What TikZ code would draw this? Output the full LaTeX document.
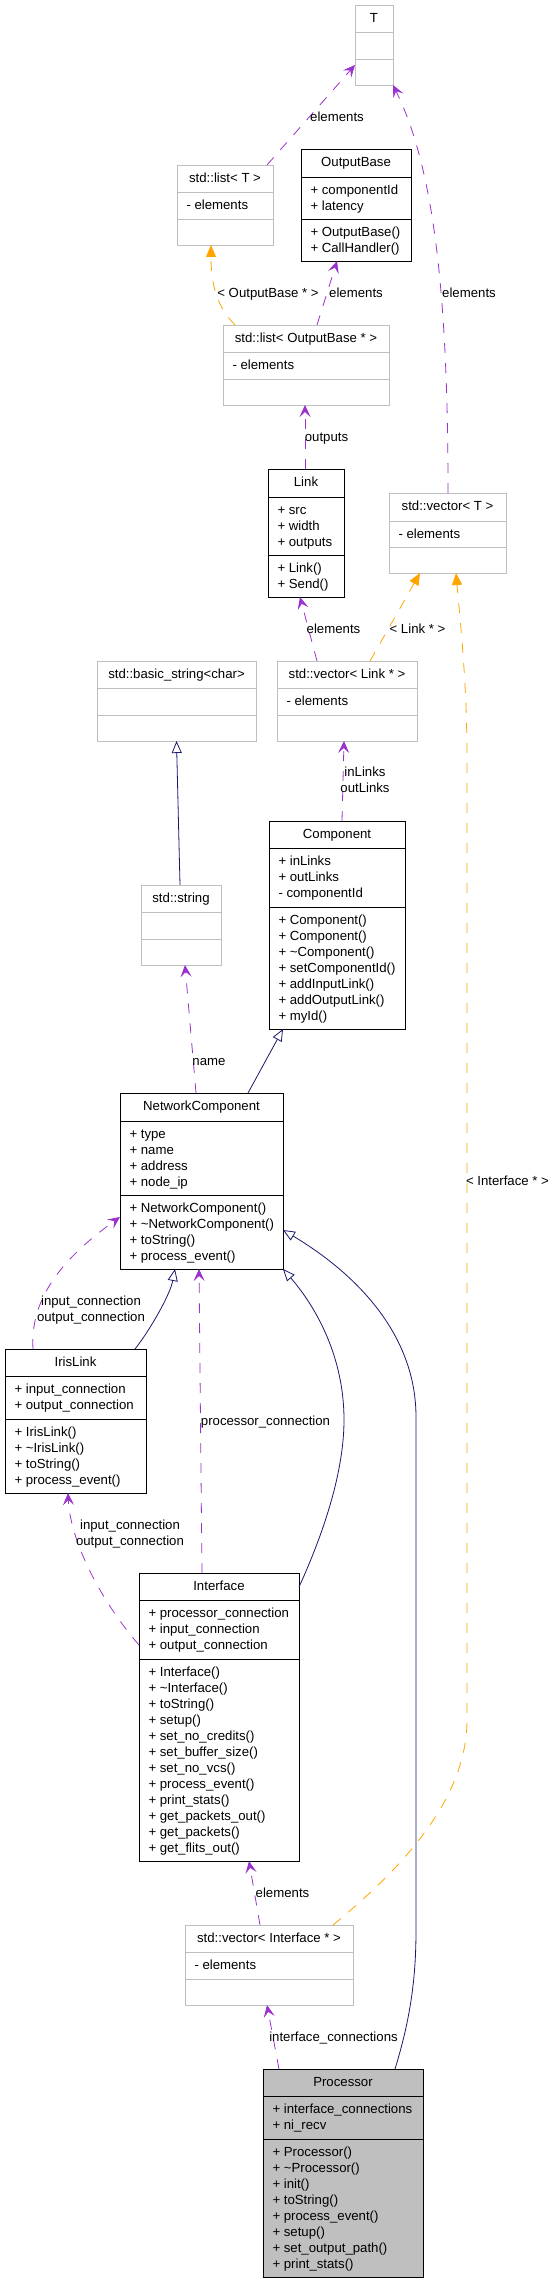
\documentclass[tikz,border=0pt]{standalone}
\usepackage{fontspec}
\setmainfont{Liberation Sans}
\usetikzlibrary{arrows.meta}
\definecolor{ugray}{HTML}{BFBFBF}
\definecolor{upurple}{HTML}{9A32CD}
\definecolor{uorange}{HTML}{FFA500}
\definecolor{unavy}{HTML}{191970}
\tikzset{
  boxg/.style={draw=ugray, fill=white, line width=0.8bp, inner sep=0pt, outer sep=0pt},
  boxgline/.style={draw=ugray, line width=0.8bp},
  boxk/.style={draw=black, fill=white, line width=0.8bp, inner sep=0pt, outer sep=0pt},
  boxkline/.style={draw=black, line width=0.8bp},
  boxp/.style={draw=black, fill=ugray, line width=0.8bp, inner sep=0pt, outer sep=0pt},
  boxpline/.style={draw=black, line width=0.8bp},
  txt/.style={font=\fontsize{13.2bp}{16bp}\selectfont, inner sep=0pt, outer sep=0pt, text=black},
  usage/.style={draw=upurple, line width=0.8bp, dash pattern=on 10bp off 10bp, -{Stealth[length=12bp,width=11bp,inset=5bp]}},
  tmpl/.style={draw=uorange, line width=0.8bp, dash pattern=on 10bp off 10bp, -{Triangle[length=12bp,width=10bp]}},
  inh/.style={draw=unavy, line width=0.8bp, -{Triangle[open,length=12bp,width=10bp,fill=white]}},
}
% name, style, x1, y1, x2, y2(div1), y3(div2), y4(bottom), title
\newcommand\umlbox[9]{%
  \node[#2, anchor=north west, minimum width={(#5-#3)*1bp}, minimum height={(#8-#4)*1bp}] (#1) at (#3,#4) {};
  \draw[#2line] (#3,#6) -- (#5,#6) (#3,#7) -- (#5,#7);
  \coordinate (#1-t) at ({(#3+#5)/2},{#4+17.5});
  \coordinate (#1-a) at ({#3+9.5},{#6+17.5});
  \coordinate (#1-m) at ({#3+9.5},{#7+17.5});
  \node[txt, anchor=base] (#1-title) at (#1-t) {#9};
}
\newcommand\umlrows[2]{%
  \foreach \ln [count=\ix from 0] in {#2} {%
    \node[txt, anchor=base west] (#1-\ix) at ([yshift={-16*\ix*1bp}]#1) {\ln};
  }%
}
\begin{document}
\begin{tikzpicture}[x=1bp,y=-1bp]
\path[fill=white] (0,0) rectangle (555,2283);
\useasboundingbox (0,0) rectangle (555,2283);

% ---------- boxes ----------
\umlbox{T}{boxg}{355}{5}{393}{32}{59}{85}{T}
\umlbox{listT}{boxg}{177}{165}{273}{192}{219}{245}{std::list< T >}
\umlrows{listT-a}{- elements}
\umlbox{OB}{boxk}{301}{149}{411}{177}{219}{261}{OutputBase}
\umlrows{OB-a}{+ componentId,+ latency}
\umlrows{OB-m}{+ OutputBase(),+ CallHandler()}
\umlbox{listOB}{boxg}{223}{325}{389}{352}{379}{405}{std::list< OutputBase * >}
\umlrows{listOB-a}{- elements}
\umlbox{Link}{boxk}{268}{469}{344}{497}{555}{597}{Link}
\umlrows{Link-a}{+ src,+ width,+ outputs}
\umlrows{Link-m}{+ Link(),+ Send()}
\umlbox{vecT}{boxg}{389}{493}{506}{521}{547}{573}{std::vector< T >}
\umlrows{vecT-a}{- elements}
\umlbox{bstr}{boxg}{97}{661}{256}{688}{715}{741}{std::basic\_string<char>}
\umlbox{vecLink}{boxg}{277}{661}{417}{688}{715}{741}{std::vector< Link * >}
\umlrows{vecLink-a}{- elements}
\umlbox{Comp}{boxk}{269}{821}{405}{848}{907}{1029}{Component}
\umlrows{Comp-a}{+ inLinks,+ outLinks,- componentId}
\umlrows{Comp-m}{+ Component(),+ Component(),+ \textasciitilde Component(),+ setComponentId(),+ addInputLink(),+ addOutputLink(),+ myId()}
\umlbox{str}{boxg}{141}{885}{221}{912}{939}{965}{std::string}
\umlbox{NC}{boxk}{120}{1093}{283}{1121}{1195}{1269}{NetworkComponent}
\umlrows{NC-a}{+ type,+ name,+ address,+ node\_ip}
\umlrows{NC-m}{+ NetworkComponent(),+ \textasciitilde NetworkComponent(),+ toString(),+ process\_event()}
\umlbox{Iris}{boxk}{5}{1349}{146}{1376}{1419}{1493}{IrisLink}
\umlrows{Iris-a}{+ input\_connection,+ output\_connection}
\umlrows{Iris-m}{+ IrisLink(),+ \textasciitilde IrisLink(),+ toString(),+ process\_event()}
\umlbox{Intf}{boxk}{139}{1573}{299}{1600}{1659}{1861}{Interface}
\umlrows{Intf-a}{+ processor\_connection,+ input\_connection,+ output\_connection}
\umlrows{Intf-m}{+ Interface(),+ \textasciitilde Interface(),+ toString(),+ setup(),+ set\_no\_credits(),+ set\_buffer\_size(),+ set\_no\_vcs(),+ process\_event(),+ print\_stats(),+ get\_packets\_out(),+ get\_packets(),+ get\_flits\_out()}
\umlbox{vecI}{boxg}{185}{1925}{353}{1952}{1979}{2005}{std::vector< Interface * >}
\umlrows{vecI-a}{- elements}
\umlbox{Proc}{boxp}{263}{2069}{423}{2096}{2139}{2277}{Processor}
\umlrows{Proc-a}{+ interface\_connections,+ ni\_recv}
\umlrows{Proc-m}{+ Processor(),+ \textasciitilde Processor(),+ init(),+ toString(),+ process\_event(),+ setup(),+ set\_output\_path(),+ print\_stats()}

% ---------- connectors ----------
\draw[usage] ([xshift=42bp]listT.north) -- ([yshift=-20bp]T.west);
\draw[usage] ([xshift=0.5bp]vecT.north) .. controls (448,300) and (435,170) .. (T.south east);
\draw[tmpl] ([xshift=-71bp]listOB.north) .. controls (215,305) and (211,280) .. ([xshift=-14bp]listT.south);
\draw[usage] ([xshift=11bp]listOB.north) -- ([xshift=-19bp]OB.south);
\draw[usage] ([xshift=-1bp]Link.north) -- ([xshift=-1bp]listOB.south);
\draw[usage] ([xshift=-30bp]vecLink.north) -- ([xshift=-6bp]Link.south);
\draw[tmpl] ([xshift=23bp]vecLink.north) -- ([xshift=-27.5bp]vecT.south);
\draw[tmpl] ([xshift=64bp]vecI.north) .. controls (400,1870) and (467,1800) .. (467,1720) -- (467,760) .. controls (467,680) and (460,620) .. ([xshift=8.5bp]vecT.south);
\draw[inh] ([xshift=-1bp]str.north) -- (bstr.south);
\draw[usage] ([xshift=5bp]Comp.north) -- ([xshift=-3bp]vecLink.south);
\draw[usage] ([xshift=-5.5bp]NC.north) -- ([xshift=4bp]str.south);
\draw[inh] ([xshift=46.5bp]NC.north) -- ([xshift=-54bp]Comp.south);
\draw[inh] ([xshift=59.5bp]Iris.north) .. controls (150,1330) and (170,1295) .. ([xshift=-26.5bp]NC.south);
\draw[usage] ([xshift=-42.5bp]Iris.north) .. controls (30,1300) and (60,1260) .. ([yshift=-36bp]NC.west);
\draw[inh] ([yshift=-14bp]Intf.north east) .. controls (325,1530) and (344,1470) .. (344,1420) .. controls (344,1350) and (310,1300) .. (NC.south east);
\draw[inh] ([xshift=52bp]Proc.north) .. controls (410,2020) and (416,1980) .. (416,1930) -- (416,1417) .. controls (416,1330) and (350,1270) .. ([yshift=-49bp]NC.east);
\draw[usage] ([yshift=72bp]Intf.west) .. controls (100,1600) and (70,1540) .. ([xshift=-7.5bp]Iris.south);
\draw[usage] ([xshift=-17bp]Intf.north) -- ([xshift=-2.5bp]NC.south);
\draw[usage] ([xshift=-9bp]vecI.north) -- ([xshift=30bp]Intf.south);
\draw[usage] ([xshift=-64bp]Proc.north) -- ([xshift=-2bp]vecI.south);

% ---------- connector labels ----------
\node[txt, anchor=base] (l1) at (337,121.5) {elements};
\node[txt, anchor=base] (l2) at (469,297.5) {elements};
\node[txt, anchor=base] (l3) at (268,297.5) {< OutputBase * >};
\node[txt, anchor=base] (l4) at (356,297.5) {elements};
\node[txt, anchor=base] (l5) at (326.5,441) {outputs};
\node[txt, anchor=base] (l6) at (333.5,633) {elements};
\node[txt, anchor=base] (l7) at (417.5,633) {< Link * >};
\node[txt, anchor=base] (l8a) at (365,776.5) {inLinks};
\node[txt, anchor=base] (l8b) at (365,792.5) {outLinks};
\node[txt, anchor=base] (l9) at (209,1065.5) {name};
\node[txt, anchor=base] (l10a) at (91,1305) {input\_connection};
\node[txt, anchor=base] (l10b) at (91,1321) {output\_connection};
\node[txt, anchor=base] (l11) at (265.5,1425) {processor\_connection};
\node[txt, anchor=base] (l12a) at (130,1529) {input\_connection};
\node[txt, anchor=base] (l12b) at (130,1545) {output\_connection};
\node[txt, anchor=base] (l13) at (507.5,1185.5) {< Interface * >};
\node[txt, anchor=base] (l14) at (282.5,1897) {elements};
\node[txt, anchor=base] (l15) at (333.5,2041) {interface\_connections};
\end{tikzpicture}
\end{document}
